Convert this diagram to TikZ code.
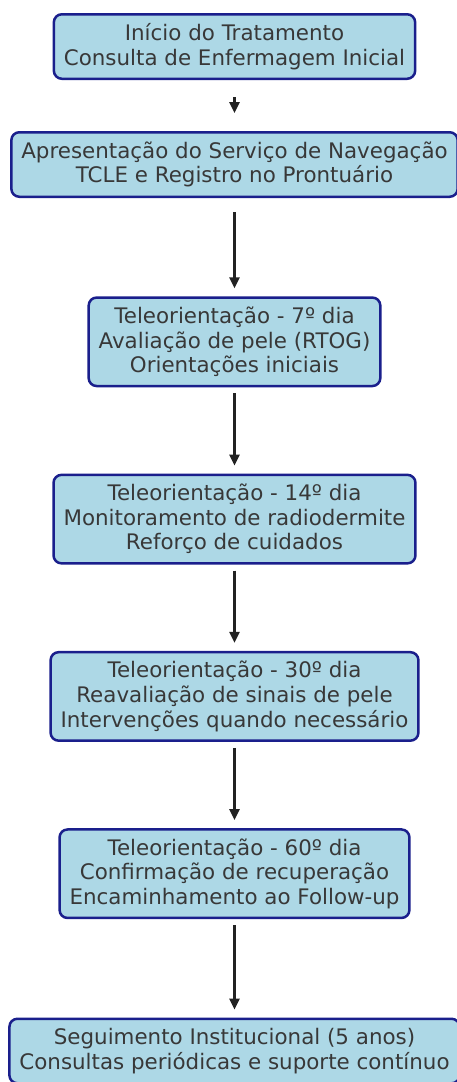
\documentclass[tikz,border=0pt]{standalone}
\usepackage{fontspec}
\setmainfont{DejaVu Sans}
\usetikzlibrary{positioning,arrows.meta}
\definecolor{boxfill}{HTML}{ADD8E6}
\definecolor{boxline}{HTML}{1A1F8C}
\definecolor{txt}{HTML}{383838}
\definecolor{arrowc}{HTML}{222222}

\begin{document}
\begin{tikzpicture}[node distance={177.3pt}, line width=2.5pt,
    >={Triangle[length=11pt,width=10pt]},
    main/.style = {draw=boxline, fill=boxfill, rounded corners=8pt, align=center,
        text=txt, inner xsep=10pt, inner ysep=2pt,
        font=\fontsize{21.4}{24.6}\selectfont},
    two/.style = {main, minimum height=64.5pt},
    three/.style = {main, minimum height=88.5pt},
    link/.style = {->, arrowc, shorten <=6pt, shorten >=8pt}]
        \useasboundingbox (0,0) rectangle (457pt,-1082pt);

        \node[two] (Ini) at (234.5pt,-46.5pt) {Início do Tratamento\\Consulta de Enfermagem Inicial};
        \node[two] (Apr) [below of = Ini, node distance=118pt] {Apresentação do Serviço de Navegação\\TCLE e Registro no Prontuário};
        \node[three] (T7) [below of = Apr] {Teleorientação - 7º dia\\Avaliação de pele (RTOG)\\Orientações iniciais};
        \node[three] (T14) [below of = T7] {Teleorientação - 14º dia\\Monitoramento de radiodermite\\Reforço de cuidados};
        \node[three] (T30) [below of = T14] {Teleorientação - 30º dia\\Reavaliação de sinais de pele\\Intervenções quando necessário};
        \node[three] (T60) [below of = T30] {Teleorientação - 60º dia\\Confirmação de recuperação\\Encaminhamento ao Follow-up};
        \node[two] (Seg) [below of = T60] {Seguimento Institucional (5 anos)\\Consultas periódicas e suporte contínuo};

        \draw[link, shorten <=17pt, shorten >=18pt] (Ini) -- (Apr);
        \draw[link, shorten <=14pt] (Apr) -- (T7);
        \draw[link] (T7) -- (T14);
        \draw[link] (T14) -- (T30);
        \draw[link] (T30) -- (T60);
        \draw[link] (T60) -- (Seg);
    \end{tikzpicture}
\end{document}
